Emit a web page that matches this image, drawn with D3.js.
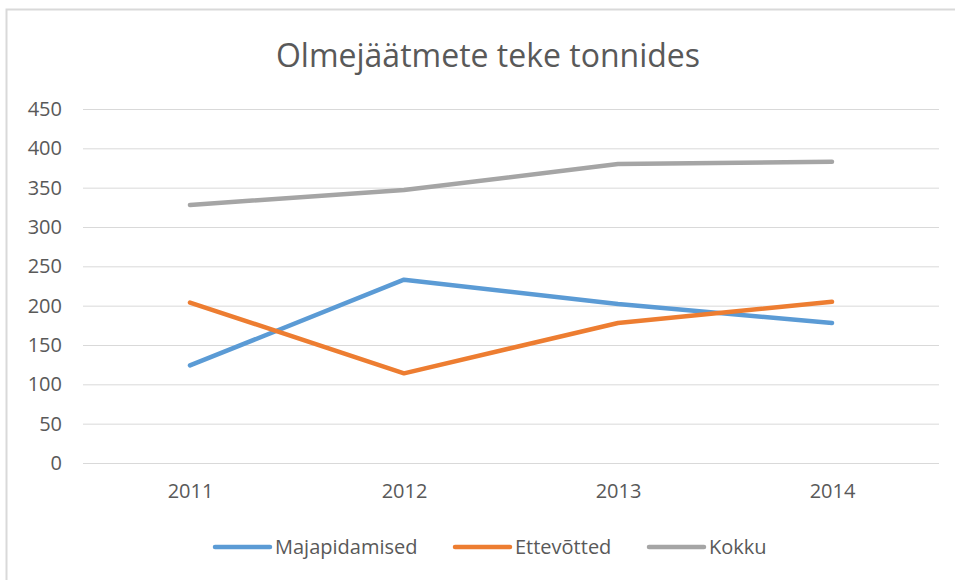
<!DOCTYPE html>
<html>
<head>
<meta charset="utf-8">
<script src="https://cdn.jsdelivr.net/npm/d3@7"></script>
<style>
  html, body { margin: 0; padding: 0; background: #fff; }
  svg { display: block; font-family: "Open Sans", sans-serif; }
</style>
</head>
<body>
<div id="chart-container"></div>
<script>
// =====================
// Data
// =====================
const TITLE = "Olmejäätmete teke tonnides";
const YEARS = ["2011", "2012", "2013", "2014"];
const SERIES_NAMES = ["Majapidamised", "Ettevõtted", "Kokku"];
const MAJAPIDAMISED = [124, 233, 202, 178];
const ETTEVOTTED = [204, 114, 178, 205];
const KOKKU = [328, 347, 380, 383];
const Y_TICKS = [0, 50, 100, 150, 200, 250, 300, 350, 400, 450];
const COLORS = ["#5B9BD5", "#ED7D31", "#A5A5A5"];

// =====================
// SVG setup
// =====================
const svgWidth = 955;
const svgHeight = 580;
const margin = { top: 109, right: 16, bottom: 117, left: 83 };
const width = svgWidth - margin.left - margin.right;
const height = svgHeight - margin.top - margin.bottom;

const svg = d3.select("#chart-container").append("svg")
  .attr("width", svgWidth)
  .attr("height", svgHeight);

// chart area frame (only top/left visible in the crop)
svg.append("rect")
  .attr("x", 6.5)
  .attr("y", 9.5)
  .attr("width", svgWidth + 20)
  .attr("height", svgHeight + 20)
  .attr("fill", "none")
  .attr("stroke", "#d9d9d9")
  .attr("stroke-width", 2);

svg.append("text")
  .attr("x", 488)
  .attr("y", 67)
  .attr("text-anchor", "middle")
  .attr("font-size", 32)
  .attr("fill", "#595959")
  .text(TITLE);

const chart = svg.append("g")
  .attr("transform", `translate(${margin.left},${margin.top})`);

// Scales
const x = d3.scalePoint()
  .domain(YEARS)
  .range([0, width])
  .padding(0.5);

const y = d3.scaleLinear()
  .domain([0, 450])
  .range([height, 0]);

// Gridlines + y axis
const yAxisG = chart.append("g")
  .call(d3.axisLeft(y).tickValues(Y_TICKS).tickSize(-width).tickPadding(21))
  .attr("font-family", null)
  .attr("font-size", 20);
yAxisG.select(".domain").remove();
yAxisG.selectAll("line").attr("stroke", "#d9d9d9").attr("stroke-width", 1);
yAxisG.selectAll("text").attr("fill", "#595959");

// x axis labels
const xAxisG = chart.append("g")
  .attr("transform", `translate(0,${height})`)
  .call(d3.axisBottom(x).tickSize(0).tickPadding(21))
  .attr("font-family", null)
  .attr("font-size", 20);
xAxisG.select(".domain").remove();
xAxisG.selectAll("text").attr("fill", "#595959");

// Lines
const seriesData = [MAJAPIDAMISED, ETTEVOTTED, KOKKU].map((vals, i) => ({
  name: SERIES_NAMES[i],
  color: COLORS[i],
  values: vals.map((v, j) => ({ year: YEARS[j], value: v }))
}));

const line = d3.line()
  .x(d => x(d.year))
  .y(d => y(d.value));

chart.selectAll("path.series")
  .data(seriesData)
  .join("path")
  .attr("class", "series")
  .attr("d", d => line(d.values))
  .attr("fill", "none")
  .attr("stroke", d => d.color)
  .attr("stroke-width", 4.5)
  .attr("stroke-linecap", "round")
  .attr("stroke-linejoin", "round");

// Legend
const legendX = [215, 455, 649];
const legend = svg.append("g")
  .attr("transform", "translate(0,547)");

const legendItem = legend.selectAll("g")
  .data(seriesData)
  .join("g")
  .attr("transform", (d, i) => `translate(${legendX[i]},0)`);

legendItem.append("line")
  .attr("x1", 0)
  .attr("x2", 55)
  .attr("stroke", d => d.color)
  .attr("stroke-width", 4.5)
  .attr("stroke-linecap", "round");

legendItem.append("text")
  .attr("x", 60)
  .attr("y", 0)
  .attr("dy", "0.35em")
  .attr("font-size", 20)
  .attr("fill", "#595959")
  .text(d => d.name);
</script>
</body>
</html>
